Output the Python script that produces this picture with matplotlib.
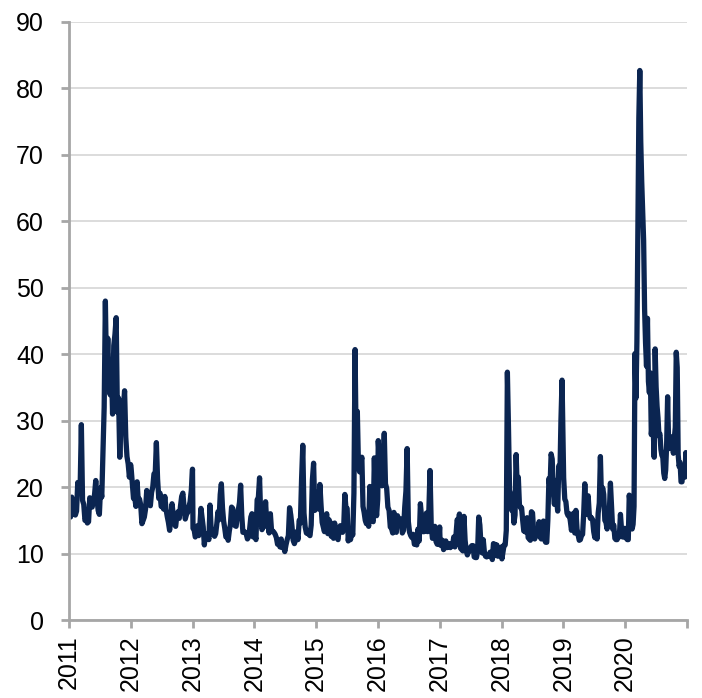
import numpy as np
import pandas as pd
import matplotlib
matplotlib.use("Agg")
import matplotlib.pyplot as plt

# Weekly-ish index levels, one list per year
vix_2011 = [17.6, 15.5, 18.5, 17.0, 16.7, 15.8, 16.4, 20.7, 19.1, 20.0, 29.4, 18.0, 17.4,
            15.0, 15.3, 14.6, 14.8, 18.4, 17.1, 17.0, 17.9, 18.9, 21.0, 18.3, 16.5, 15.9,
            19.9, 18.5, 25.3, 32.0, 48.0, 36.4, 42.4, 35.6, 33.9, 38.5, 31.0, 41.3, 43.0,
            45.5, 31.3, 33.4, 24.5, 30.5, 32.8, 32.0, 34.5, 27.5, 24.6, 23.5, 21.5, 23.4]
vix_2012 = [22.9, 20.6, 18.3, 18.5, 17.1, 20.8, 17.8, 18.2, 17.3, 14.5, 15.0, 15.5, 16.7,
            19.5, 17.4, 18.0, 17.2, 19.2, 20.0, 22.0, 21.8, 26.7, 21.2, 18.3, 19.1, 17.1,
            17.1, 16.7, 18.6, 16.7, 15.6, 14.7, 13.5, 15.2, 17.5, 15.8, 14.5, 14.1, 15.7,
            16.3, 15.3, 17.1, 18.6, 19.1, 16.9, 15.2, 15.9, 16.2, 17.0, 17.8, 19.5, 22.7]
vix_2013 = [13.8, 13.6, 12.5, 12.9, 14.2, 12.7, 14.1, 16.8, 15.4, 14.0, 11.3, 13.0, 12.7,
            12.7, 12.1, 17.3, 13.6, 13.5, 12.9, 12.6, 13.0, 14.5, 16.3, 15.1, 18.9, 20.5,
            16.9, 14.9, 13.8, 12.5, 12.7, 12.0, 13.4, 14.4, 17.0, 16.8, 15.9, 14.2, 14.1,
            15.5, 16.6, 17.7, 20.3, 15.7, 13.2, 13.3, 13.2, 12.9, 12.2, 12.5, 13.8, 15.5,
            16.0, 12.5, 13.7]
vix_2014 = [12.9, 12.1, 18.1, 18.4, 21.4, 15.3, 13.6, 14.0, 14.1, 17.8, 14.5, 15.0, 13.1,
            16.0, 13.4, 13.4, 13.2, 12.9, 12.4, 11.4, 11.7, 11.0, 12.2, 10.9, 11.3, 10.3,
            11.3, 12.1, 12.7, 16.9, 15.8, 14.1, 12.0, 11.5, 12.1, 13.3, 12.1, 15.0, 14.6,
            21.2, 26.3, 16.1, 14.0, 13.1, 13.0, 13.0, 12.7, 14.3, 21.1, 23.6, 16.5, 19.2]
vix_2015 = [17.8, 19.2, 16.7, 20.4, 17.3, 14.7, 14.0, 13.3, 15.2, 16.0, 13.0, 15.1, 14.7,
            12.6, 13.9, 12.3, 14.6, 12.9, 12.4, 12.1, 13.8, 14.2, 13.8, 13.2, 14.0, 18.9,
            16.8, 16.8, 11.9, 13.7, 12.1, 13.4, 12.8, 19.1, 40.7, 26.1, 31.4, 23.2, 22.3,
            23.6, 24.5, 17.1, 16.2, 15.0, 14.5, 15.1, 14.1, 20.1, 15.5, 15.1, 14.8, 24.4,
            18.0, 15.7, 18.2]
vix_2016 = [27.0, 24.0, 22.3, 20.2, 23.4, 28.1, 20.5, 19.8, 17.0, 16.5, 14.0, 13.8, 13.1,
            16.2, 13.6, 13.2, 15.7, 14.7, 14.4, 15.2, 13.1, 13.5, 17.0, 19.4, 25.8, 14.8,
            13.2, 12.7, 12.4, 12.9, 11.4, 11.6, 11.3, 13.7, 11.9, 17.5, 15.4, 13.3, 13.3,
            13.5, 16.1, 13.3, 16.2, 22.5, 14.2, 12.3, 12.4, 14.1, 11.8, 11.4, 11.4, 14.0]
vix_2017 = [11.3, 11.2, 12.0, 10.6, 11.0, 11.9, 10.9, 11.5, 11.5, 10.9, 11.3, 11.3, 12.5,
            11.0, 12.9, 15.1, 14.6, 15.96, 10.8, 10.6, 10.4, 15.6, 12.0, 10.4, 9.8, 10.4,
            10.4, 11.0, 11.2, 11.2, 9.5, 9.4, 9.4, 10.3, 15.5, 14.3, 11.3, 10.1, 12.1,
            10.2, 9.6, 9.5, 9.7, 9.6, 10.2, 9.8, 9.1, 11.5, 11.4, 9.7, 11.3, 9.6, 10.0,
            9.9, 11.0]
vix_2018 = [9.2, 10.2, 11.3, 11.3, 13.5, 37.3, 29.1, 19.5, 19.0, 16.5, 17.8, 14.6, 15.8,
            24.9, 19.9, 21.5, 17.4, 16.9, 16.9, 15.0, 13.4, 13.4, 13.2, 15.4, 12.4, 12.2,
            12.0, 16.3, 16.1, 13.4, 12.2, 12.9, 13.0, 12.9, 14.8, 12.5, 12.2, 12.9, 14.9,
            12.1, 11.7, 11.7, 15.0, 21.3, 19.9, 25.0, 24.2, 19.5, 17.4, 21.0, 18.1, 16.4,
            23.2, 21.6, 30.1, 36.1, 25.4]
vix_2019 = [21.4, 18.2, 17.8, 16.1, 15.7, 16.0, 14.9, 13.5, 14.6, 16.1, 13.1, 16.5, 13.7,
            12.8, 12.0, 12.1, 12.7, 12.9, 16.0, 20.5, 15.9, 17.5, 18.7, 15.9, 15.3, 15.4,
            15.1, 13.3, 12.4, 14.5, 12.2, 16.1, 17.6, 24.6, 18.0, 19.9, 18.9, 15.0, 14.7,
            13.7, 15.3, 16.2, 20.6, 17.0, 13.7, 14.3, 12.3, 12.1, 12.1, 12.7, 12.5, 15.9,
            13.6, 12.5, 12.5, 13.8]
vix_2020 = [12.5, 12.3, 12.1, 12.1, 18.8, 17.5, 15.5, 13.7, 14.4, 17.1, 40.1, 33.4, 41.9,
            57.8, 75.5, 82.7, 72.0, 66.0, 61.6, 57.1, 46.8, 41.7, 38.2, 45.4, 35.9, 34.2,
            37.2, 27.9, 29.6, 28.6, 24.5, 40.8, 35.1, 32.2, 30.4, 27.7, 28.0, 25.7, 24.8,
            24.5, 22.1, 21.3, 22.6, 26.5, 33.6, 26.9, 25.8, 26.4, 26.7, 27.6, 25.1, 27.4,
            29.0, 40.3, 38.0, 24.9, 23.1, 23.7, 20.8, 20.8, 22.8, 21.6, 21.5, 25.2, 22.75]

years = list(range(2011, 2021))
yearly = [vix_2011, vix_2012, vix_2013, vix_2014, vix_2015,
          vix_2016, vix_2017, vix_2018, vix_2019, vix_2020]

parts = []
for yr, vals in zip(years, yearly):
    idx = pd.date_range(f"{yr}-01-03", f"{yr}-12-31", periods=len(vals))
    parts.append(pd.Series(vals, index=idx))
vix = pd.concat(parts)

plt.rcParams['font.family'] = ['Liberation Sans', 'DejaVu Sans']

fig = plt.figure(figsize=(7.02, 6.98), dpi=100)
ax = fig.add_axes([0.0983, 0.1117, 0.8803, 0.8568])

ax.plot(vix.index, vix.values, color='#0b2551', linewidth=3.8, solid_joinstyle='round')

ax.set_ylim(0, 90)
ax.set_yticks(range(0, 91, 10))
ax.set_xlim(pd.Timestamp("2011-01-01"), pd.Timestamp("2021-01-01"))
ticks = [pd.Timestamp(f"{y}-01-01") for y in range(2011, 2022)]
ax.set_xticks(ticks)
ax.set_xticklabels([str(y) for y in range(2011, 2021)] + [""], rotation=90)

ax.grid(axis='y', color='#d9d9d9', linewidth=1.3)
ax.set_axisbelow(True)
for side in ['top', 'right']:
    ax.spines[side].set_visible(False)
for side in ['left', 'bottom']:
    ax.spines[side].set_color('#a6a6a6')
    ax.spines[side].set_linewidth(2)
ax.tick_params(axis='both', colors='#a6a6a6', width=2, length=6, labelsize=18,
               labelcolor='black')
ax.tick_params(axis='y', pad=12)
ax.tick_params(axis='x', pad=5)

fig.savefig('out.png', dpi=100)
